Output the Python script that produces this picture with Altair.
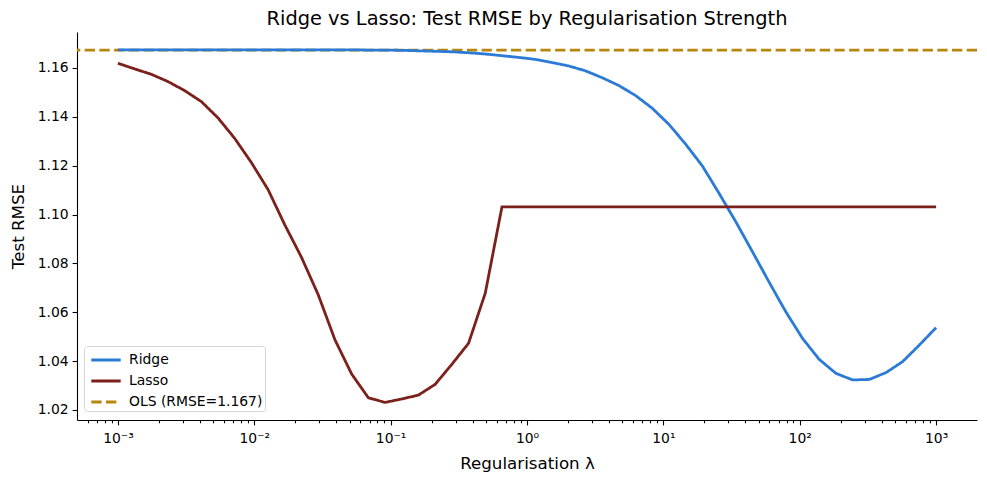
import pandas as pd
import altair as alt

# lambda grid (logspace 1e-3 .. 1e3, 50 points)
lambdas = [0.001, 0.0013257, 0.0017575, 0.00233, 0.0030888, 0.0040949, 0.0054287, 0.0071969,
           0.009541, 0.012649, 0.016768, 0.02223, 0.029471, 0.039069, 0.051795, 0.068665,
           0.09103, 0.12068, 0.15999, 0.2121, 0.28118, 0.37276, 0.49417, 0.65513, 0.86851,
           1.1514, 1.5264, 2.0236, 2.6827, 3.5565, 4.7149, 6.2506, 8.2864, 10.985, 14.563,
           19.307, 25.595, 33.932, 44.984, 59.636, 79.06, 104.81, 138.95, 184.21, 244.21,
           323.75, 429.19, 568.99, 754.31, 1000.0]

ridge_rmse = [1.1674, 1.1674, 1.1674, 1.1674, 1.1674, 1.1674, 1.1674, 1.1674, 1.1674, 1.1674,
              1.1674, 1.1674, 1.1674, 1.1674, 1.1674, 1.1673, 1.1673, 1.1672, 1.1670, 1.1668,
              1.1666, 1.1662, 1.1657, 1.1650, 1.1643, 1.1635, 1.1622, 1.1608, 1.1588, 1.1560,
              1.1528, 1.1487, 1.1435, 1.1369, 1.1288, 1.1199, 1.1087, 1.0971, 1.0848, 1.0723,
              1.0602, 1.0493, 1.0407, 1.0350, 1.0323, 1.0325, 1.0353, 1.0398, 1.0466, 1.0537]

lasso_rmse = [1.1619, 1.1596, 1.1574, 1.1544, 1.1507, 1.1462, 1.1395, 1.1311, 1.1212, 1.1101,
              1.0957, 1.0824, 1.0671, 1.0487, 1.0347, 1.0250, 1.0231, 1.0245, 1.0261, 1.0305,
              1.0387, 1.0473, 1.0678, 1.1031, 1.1031, 1.1031, 1.1031, 1.1031, 1.1031, 1.1031,
              1.1031, 1.1031, 1.1031, 1.1031, 1.1031, 1.1031, 1.1031, 1.1031, 1.1031, 1.1031,
              1.1031, 1.1031, 1.1031, 1.1031, 1.1031, 1.1031, 1.1031, 1.1031, 1.1031, 1.1031]

ols_rmse = 1.1673
ols_label = 'OLS (RMSE=1.167)'

series_names = ['Ridge', 'Lasso', ols_label]
series_colors = ['#2a7ad6', '#7b201a', '#b8860b']
y_ticks = [1.02, 1.04, 1.06, 1.08, 1.10, 1.12, 1.14, 1.16]
decade_labels = ['10\u207b\u00b3', '10\u207b\u00b2', '10\u207b\u00b9', '10\u2070',
                 '10\u00b9', '10\u00b2', '10\u00b3']

FONT = 'DejaVu Sans'

curves = pd.concat([
    pd.DataFrame({'lam': lambdas, 'rmse': ridge_rmse, 'model': 'Ridge'}),
    pd.DataFrame({'lam': lambdas, 'rmse': lasso_rmse, 'model': 'Lasso'}),
])
ols = pd.DataFrame({'rmse': [ols_rmse], 'model': [ols_label]})

# log ticks: majors at decades, minors at 2..9 x decade
x_lo, x_hi = 10 ** -3.3, 10 ** 3.3
x_ticks = [m * 10.0 ** k for k in range(-4, 4) for m in range(1, 10) if x_lo <= m * 10.0 ** k <= x_hi]
expo = 'log(datum.value)/LN10'
is_major = f'abs({expo} - round({expo})) < 1e-6'
label_expr = "''"
for e, lab in zip(range(3, -4, -1), reversed(decade_labels)):
    label_expr = f"abs({expo} - ({e})) < 1e-6 ? '{lab}' : " + label_expr

x_axis = alt.Axis(values=x_ticks, grid=False, title='Regularisation \u03bb',
                  labelExpr=label_expr, labelOverlap=False, labelBound=False,
                  tickSize={'condition': {'test': is_major, 'value': 4.9}, 'value': 2.8},
                  labelFontSize=13.9, titleFontSize=16.7, titlePadding=10, labelPadding=7,
                  labelFlush=False)
y_axis = alt.Axis(values=y_ticks, format='.2f', grid=False, title='Test RMSE',
                  tickSize=4.9, labelFontSize=13.9, titleFontSize=16.7, titlePadding=10,
                  labelPadding=4)

# short horizontal stroke as legend key (wider than the row height)
color = alt.Color('model:N', scale=alt.Scale(domain=series_names, range=series_colors),
                  legend=alt.Legend(orient='none', legendX=7, legendY=314, title=None,
                                    symbolType='M-1.4,0H1.4', symbolSize=441,
                                    symbolStrokeWidth=2.8, symbolOffset=8,
                                    labelFontSize=13.9, labelFont=FONT, labelColor='black',
                                    strokeColor='#d6d6d6', fillColor='white', padding=2,
                                    cornerRadius=3, labelOffset=11, rowPadding=2))
dash = alt.StrokeDash('model:N', scale=alt.Scale(domain=series_names,
                                                range=[[1, 0], [1, 0], [10.3, 4.4]]),
                      legend=None)

x_enc = alt.X('lam:Q', scale=alt.Scale(type='log', domain=[x_lo, x_hi], nice=False), axis=x_axis)
y_enc = alt.Y('rmse:Q', scale=alt.Scale(domain=[1.0159, 1.1747], nice=False, zero=False), axis=y_axis)

lines = alt.Chart(curves).mark_line(strokeWidth=2.8).encode(
    x=x_enc, y=y_enc, color=color, strokeDash=dash, order='lam:Q'
)
ols_line = alt.Chart(ols).mark_rule(strokeWidth=2.8).encode(
    y='rmse:Q', color=color, strokeDash=dash
)

chart = alt.layer(ols_line, lines).properties(
    width=900, height=388,
    autosize=alt.AutoSizeParams(type='none'),
    padding={'left': 69, 'top': 24, 'right': 2, 'bottom': 58},
    title=alt.TitleParams('Ridge vs Lasso: Test RMSE by Regularisation Strength',
                          fontSize=19.4, font=FONT, fontWeight='normal', color='black', offset=3),
).configure_axis(
    labelFont=FONT, titleFont=FONT, labelColor='black', titleColor='black',
    domainColor='black', tickColor='black', domainWidth=1.1, tickWidth=1.1,
    titleFontWeight='normal'
).configure_view(stroke=None)

chart.save('out.html', embed_options={'renderer': 'svg', 'actions': False})
